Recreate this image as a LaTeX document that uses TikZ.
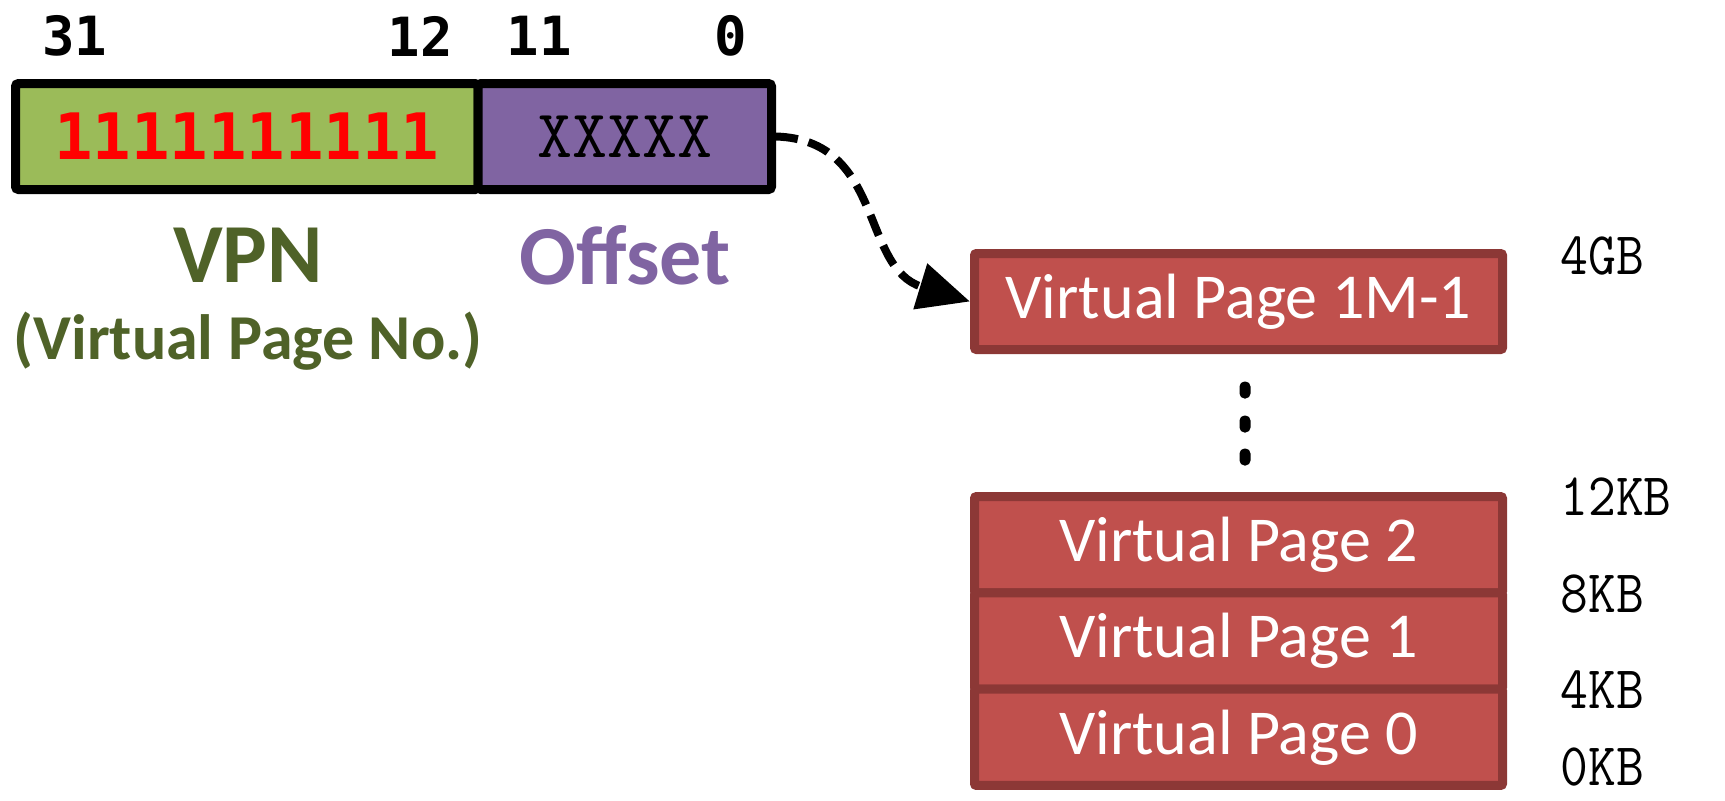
\documentclass[tikz,border=0pt]{standalone}
\usepackage{fontspec}
\setmainfont{Carlito}
\newfontfamily\bitfont{DejaVu Sans Mono}
\usetikzlibrary{arrows.meta}
\definecolor{vgreen}{HTML}{9BBB59}
\definecolor{vpurple}{HTML}{8064A2}
\definecolor{dgreen}{HTML}{4F6228}
\definecolor{pfill}{HTML}{C0504D}
\definecolor{pborder}{HTML}{8C3836}
\newcommand\addrtxt[1]{\scalebox{1}[1.12]{#1}}
\tikzset{
  field/.style={draw=black, line width=4.5pt, inner sep=0pt, minimum height=53pt, rounded corners=1.5pt},
  bitlbl/.style={font=\bitfont\bfseries\fontsize{27}{30}\selectfont, inner sep=0pt},
  biglbl/.style={font=\bfseries\fontsize{42}{48}\selectfont, text=dgreen, inner sep=0pt},
  pagebox/.style={fill=pfill, draw=pborder, line width=4.5pt, text=white, inner sep=0pt,
    minimum width=264pt, font=\fontsize{32}{36}\selectfont, rounded corners=1pt},
  addr/.style={font=\ttfamily\fontsize{27}{30}\selectfont, anchor=west, inner sep=0pt},
  vdot/.style={fill=black, minimum width=5.5pt, minimum height=8.5pt, inner sep=0pt, rounded corners=2.5pt},
  conn/.style={line width=4pt, dash pattern=on 11pt off 5.5pt, -{Triangle[length=26pt,width=23pt]}}
}
\begin{document}
\begin{tikzpicture}[x=0.5pt, y=-0.5pt]
\useasboundingbox (0,0) rectangle (1725,800);
% address fields
\node[field, fill=vgreen, minimum width=231.25pt] (vpn) at (246.75,136.5)
  {\bitfont\bfseries\fontsize{32}{36}\selectfont\color{red}1111111111};
\node[field, fill=vpurple, minimum width=146.75pt] (off) at (624.75,136.5)
  {\ttfamily\fontsize{34}{38}\selectfont XXXXX};
% bit numbers
\node[bitlbl] (b31) at (75,36) {31};
\node[bitlbl] (b12) at (420,36) {12};
\node[bitlbl] (b11) at (539,36) {11};
\node[bitlbl] (b0) at (731,36) {0};
% labels
\node[biglbl] (vpnlbl) at (248,255) {VPN};
\node[biglbl, font=\bfseries\fontsize{32}{36}\selectfont] (vpnsub) at (248,341) {(Virtual Page No.)};
\node[biglbl, text=vpurple] (offlbl) at (625,255) {Offset};
% pages
\node[pagebox, minimum height=48pt] (vp1m) at (1238.5,301.5) {Virtual Page 1M-1};
\node[pagebox, minimum height=48.17pt] (vp2) at (1238.5,544.7) {Virtual Page 2};
\node[pagebox, minimum height=48.17pt] (vp1) at (1238.5,641) {Virtual Page 1};
\node[pagebox, minimum height=48.17pt] (vp0) at (1238.5,737.3) {Virtual Page 0};
% dots
\node[vdot] (d1) at (1245,390) {};
\node[vdot] (d2) at (1245,424) {};
\node[vdot] (d3) at (1245,457) {};
% addresses
\node[addr] (a4gb) at (1560,256) {\addrtxt{4GB}};
\node[addr] (a12kb) at (1560,497) {\addrtxt{12KB}};
\node[addr] (a8kb) at (1560,594) {\addrtxt{8KB}};
\node[addr] (a4kb) at (1560,690) {\addrtxt{4KB}};
\node[addr] (a0kb) at (1560,767) {\addrtxt{0KB}};
% connector
\draw[conn] (off.east) .. controls (885,140) and (860,268) .. (vp1m.west);
\end{tikzpicture}
\end{document}
